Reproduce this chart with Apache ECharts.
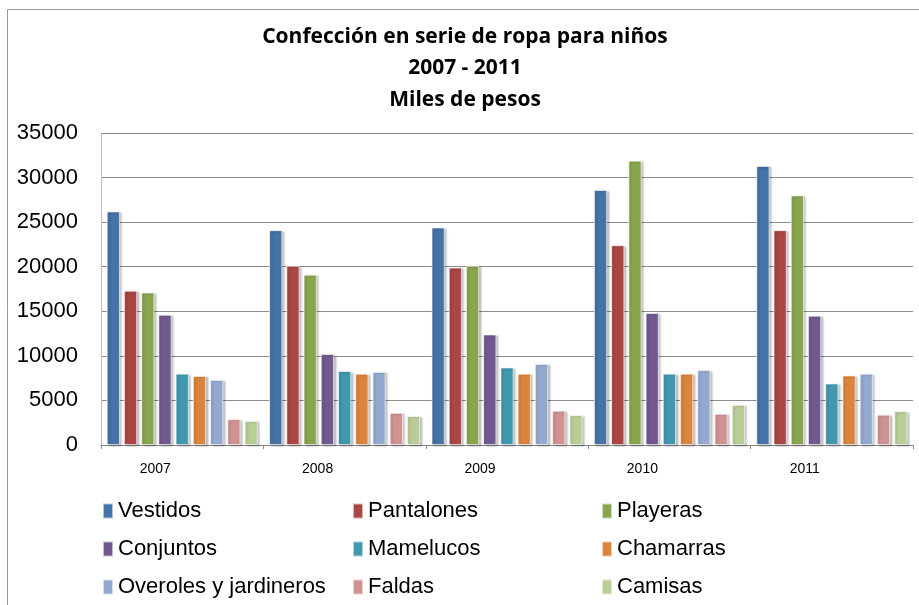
<!DOCTYPE html>
<html>
<head>
<meta charset="utf-8">
<script src="https://cdn.jsdelivr.net/npm/echarts@6/dist/echarts.min.js"></script>
<style>html,body{margin:0;padding:0;background:#fff;}#c{width:919px;height:605px;}</style>
</head>
<body>
<div id="c"></div>
<script>
var years = ['2007', '2008', '2009', '2010', '2011'];
var seriesNames = ['Vestidos', 'Pantalones', 'Playeras', 'Conjuntos', 'Mamelucos', 'Chamarras', 'Overoles y jardineros', 'Faldas', 'Camisas'];
var vestidos   = [26200, 24100, 24400, 28600, 31300];
var pantalones = [17300, 20100, 19900, 22400, 24100];
var playeras   = [17100, 19100, 20100, 31900, 28000];
var conjuntos  = [14600, 10200, 12400, 14800, 14500];
var mamelucos  = [8000, 8300, 8700, 8000, 6900];
var chamarras  = [7750, 8000, 8000, 8000, 7800];
var overoles   = [7300, 8200, 9100, 8400, 8000];
var faldas     = [2900, 3600, 3850, 3500, 3400];
var camisas    = [2700, 3250, 3350, 4500, 3800];
var yTicks = [0, 5000, 10000, 15000, 20000, 25000, 30000, 35000];
var titleLines = ['Confección en serie de ropa para niños', '2007 - 2011', 'Miles de pesos'];

var values = [vestidos, pantalones, playeras, conjuntos, mamelucos, chamarras, overoles, faldas, camisas];
var colors = ['#4572A7', '#AA4643', '#89A54E', '#71588F', '#4198AF', '#DB843D', '#93A9CF', '#D19392', '#B9CD96'];

var chart = echarts.init(document.getElementById('c'), null, {renderer: 'canvas'});
var series = seriesNames.map(function (n, i) {
  return {
    name: n,
    type: 'bar',
    data: values[i],
    barGap: '30%',
    barCategoryGap: '7%',
    itemStyle: {
      color: colors[i],
      borderColor: 'rgba(255,255,255,0.6)',
      borderWidth: 1,
      shadowColor: 'rgba(0,0,0,0.25)',
      shadowBlur: 2,
      shadowOffsetX: 2,
      shadowOffsetY: 1
    },
    emphasis: {disabled: true}
  };
});

var legendFont = {fontFamily: 'Liberation Sans, Arial, sans-serif', fontSize: 22, color: '#000'};
function mkLegend(items, left) {
  return {
    data: items,
    orient: 'vertical',
    left: left,
    top: 495,
    itemWidth: 10,
    itemHeight: 15,
    itemGap: 16,
    textStyle: legendFont,
    selectedMode: false,
    icon: 'rect'
  };
}

chart.setOption({
  animation: false,
  backgroundColor: '#fff',
  title: {
    text: titleLines.join('\n'),
    left: 460,
    textAlign: 'center',
    top: 16,
    textStyle: {fontFamily: 'Open Sans, Liberation Sans, sans-serif', fontWeight: 'bold', fontSize: 21, lineHeight: 31.5, color: '#000'}
  },
  legend: [
    mkLegend([seriesNames[0], seriesNames[3], seriesNames[6]], 97),
    mkLegend([seriesNames[1], seriesNames[4], seriesNames[7]], 347),
    mkLegend([seriesNames[2], seriesNames[5], seriesNames[8]], 596)
  ],
  grid: {left: 101, right: 6, top: 133, bottom: 160, containLabel: false},
  xAxis: {
    type: 'category',
    data: years,
    axisLine: {show: true, lineStyle: {color: '#888', width: 1}},
    axisTick: {show: true, length: 4, lineStyle: {color: '#888'}},
    axisLabel: {fontFamily: 'Liberation Sans, Arial, sans-serif', fontSize: 14, color: '#000', margin: 17, padding: [0, 54, 0, 0]}
  },
  yAxis: {
    type: 'value',
    min: yTicks[0],
    max: yTicks[yTicks.length - 1],
    interval: 5000,
    axisLine: {show: true, lineStyle: {color: '#bbb'}},
    axisTick: {show: false},
    splitLine: {show: true, lineStyle: {color: '#8c8c8c', width: 1}},
    axisLabel: {fontFamily: 'Liberation Sans, Arial, sans-serif', fontSize: 22, color: '#000', margin: 23,
      formatter: function (v) { return String(v); }}
  },
  graphic: [{
    type: 'rect',
    shape: {x: 7.5, y: 9.5, width: 1000, height: 1000},
    style: {fill: 'none', stroke: '#999', lineWidth: 1},
    silent: true
  }],
  series: series
});
</script>
</body>
</html>
